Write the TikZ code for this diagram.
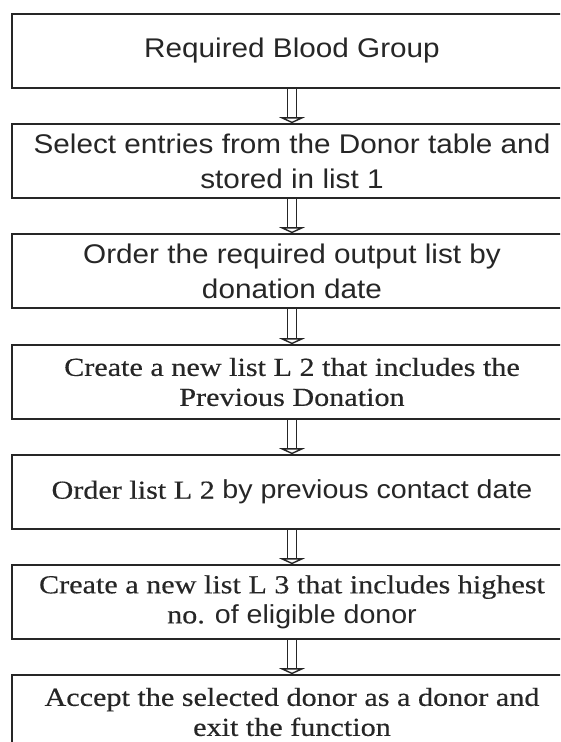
\documentclass[tikz,border=0pt]{standalone}
\usepackage{fontspec}
\setmainfont{Liberation Serif}[FakeStretch=1.16, FakeBold=0.4]
\setsansfont{Liberation Sans}[FakeStretch=1.1]
\usetikzlibrary{arrows.meta}

\begin{document}
\begin{tikzpicture}[x=1pt, y=1pt,
  stepbox/.style={draw=black!85, line width=1.6pt, minimum width=560pt, minimum height=74pt, align=center, inner sep=0pt, text=black!85},
  sans/.style={font=\sffamily\fontsize{27}{35}\selectfont},
  roman/.style={font=\rmfamily\fontsize{26}{30}\selectfont},
  arr/.style={draw=black!85, double, double distance=8pt, line width=1.4pt, -{Triangle[open, length=6pt, width=26pt, line width=1.4pt]}}
]
  \clip (0,0) rectangle (560,742);
  \node[stepbox, sans] (group) at (292,691) {Required Blood Group};
  \node[stepbox, sans] (select) at (292,581) {Select entries from the Donor table and\\stored in list 1};
  \node[stepbox, sans] (order) at (292,471) {Order the required output list by\\donation date};
  \node[stepbox, roman] (listtwo) at (292,360) {Create a new list L 2 that includes the\\Previous Donation};
  \node[stepbox, roman] (ordertwo) at (292,250) {Order list L 2 \textsf{by previous contact date}};
  \node[stepbox, roman] (listthree) at (292,140) {Create a new list L 3 that includes highest\\no. \textsf{of eligible donor}};
  \node[stepbox, roman] (accept) at (292,30) {Accept the selected donor as a donor and\\exit the function};
  % double arrows between the steps
  \draw[arr] (group) -- (select);
  \draw[arr] (select) -- (order);
  \draw[arr] (order) -- (listtwo);
  \draw[arr] (listtwo) -- (ordertwo);
  \draw[arr] (ordertwo) -- (listthree);
  \draw[arr] (listthree) -- (accept);
\end{tikzpicture}
\end{document}
